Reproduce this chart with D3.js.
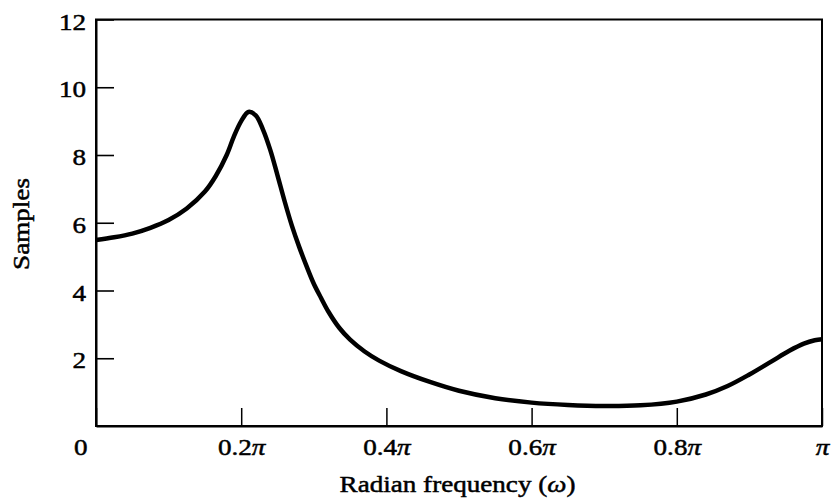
<!DOCTYPE html>
<html>
<head>
<meta charset="utf-8">
<script src="https://cdn.jsdelivr.net/npm/d3@7"></script>
<style>
  html, body { margin: 0; padding: 0; background: #fff; }
  svg { display: block; }
  text { font-family: "Liberation Serif", "Times New Roman", serif; fill: #000; stroke: #000; stroke-width: 0.5px; }
</style>
</head>
<body>
<svg id="chart" width="835" height="499"></svg>
<script>
// Radian frequency, in units of pi
const omega = [0, 0.025, 0.05, 0.075, 0.10, 0.125, 0.15, 0.165, 0.18, 0.19, 0.2, 0.21, 0.22, 0.23, 0.24, 0.25, 0.26, 0.27, 0.28, 0.29, 0.30, 0.31, 0.32, 0.335, 0.35, 0.37, 0.39, 0.42, 0.46, 0.5, 0.55, 0.6, 0.65, 0.7, 0.75, 0.8, 0.84, 0.87, 0.9, 0.93, 0.955, 0.975, 0.99, 1.0];
// Samples (magnitude)
const samples = [5.49, 5.57, 5.68, 5.85, 6.08, 6.42, 6.92, 7.38, 8.0, 8.55, 9.0, 9.27, 9.17, 8.75, 8.15, 7.4, 6.62, 5.9, 5.28, 4.72, 4.2, 3.78, 3.38, 2.9, 2.55, 2.2, 1.93, 1.62, 1.3, 1.04, 0.82, 0.69, 0.62, 0.59, 0.61, 0.72, 0.93, 1.18, 1.52, 1.9, 2.22, 2.43, 2.53, 2.56];
const xTicks = [0, 0.2, 0.4, 0.6, 0.8, 1];
const xTickLabels = ["0", "0.2", "0.4", "0.6", "0.8", ""]; // followed by italic π (except 0)
const yTicks = [2, 4, 6, 8, 10, 12];
const yTickLabels = ["2", "4", "6", "8", "10", "12"];
const xTitle = "Radian frequency (";
const xTitleSym = "ω";
const yTitle = "Samples";

const svg = d3.select("#chart");
const m = { left: 96, right: 822, top: 19.5, bottom: 426 };
const SX = 1.13; // horizontal stretch of the serif lettering
const FS = 24;

const x = d3.scaleLinear().domain([0, 1]).range([m.left, m.right]);
const y = d3.scaleLinear().domain([0, 12]).range([m.bottom, m.top]);

function stretch(sel) {
  sel.each(function () {
    const t = d3.select(this);
    const tx = +t.attr("x") || 0, ty = +t.attr("y") || 0;
    t.attr("x", 0).attr("y", 0)
     .attr("transform", `translate(${tx},${ty}) scale(${SX},1)`);
  });
}

// frame (top and right borders)
svg.append("rect")
  .attr("x", m.left).attr("y", m.top)
  .attr("width", m.right - m.left).attr("height", m.bottom - m.top)
  .attr("fill", "none").attr("stroke", "#000").attr("stroke-width", 2);

// y axis
const yAxis = svg.append("g")
  .attr("transform", `translate(${m.left},0)`)
  .call(d3.axisLeft(y).tickValues(yTicks)
    .tickFormat((d, i) => yTickLabels[i])
    .tickSizeInner(-18).tickSizeOuter(0).tickPadding(10));
yAxis.select(".domain").attr("stroke-width", 2);
yAxis.selectAll(".tick line").attr("stroke-width", 1.6);
yAxis.selectAll(".tick text")
  .attr("font-size", FS).attr("font-family", "Liberation Serif, serif")
  .attr("dy", null)
  .attr("y", 9.5)
  .call(stretch);

// x axis
const xAxis = svg.append("g")
  .attr("transform", `translate(0,${m.bottom})`)
  .call(d3.axisBottom(x).tickValues(xTicks)
    .tickFormat(() => "")
    .tickSizeInner(-18).tickSizeOuter(0).tickPadding(10));
xAxis.select(".domain").attr("stroke-width", 2);
xAxis.selectAll(".tick line").attr("stroke-width", 1.5);
xAxis.selectAll(".tick text")
  .attr("font-size", FS).attr("font-family", "Liberation Serif, serif")
  .attr("dy", null)
  .attr("y", 29)
  .each(function (d, i) {
    const t = d3.select(this);
    t.text(null);
    if (i === 0) {
      t.attr("text-anchor", "end").attr("x", -9);
      t.append("tspan").text(xTickLabels[i]);
    } else {
      if (xTickLabels[i]) t.append("tspan").text(xTickLabels[i]);
      t.append("tspan").attr("font-style", "italic").text("π");
    }
  })
  .call(stretch);

// curve
const pts = omega.map((w, i) => [w, samples[i]]);
svg.append("path")
  .datum(pts)
  .attr("fill", "none")
  .attr("stroke", "#000")
  .attr("stroke-width", 4.5)
  .attr("stroke-linejoin", "round")
  .attr("d", d3.line().x(d => x(d[0])).y(d => y(d[1])).curve(d3.curveCatmullRom.alpha(0.5)));

// axis titles
const xt = svg.append("text")
  .attr("text-anchor", "middle").attr("font-size", FS)
  .attr("transform", `translate(457.5,492) scale(${SX},1)`);
xt.append("tspan").text(xTitle);
xt.append("tspan").attr("font-style", "italic").text(xTitleSym);
xt.append("tspan").text(")");

svg.append("text")
  .attr("text-anchor", "middle").attr("font-size", FS)
  .attr("transform", `translate(28.5,224) rotate(-90) scale(${SX},1)`)
  .text(yTitle);
</script>
</body>
</html>
